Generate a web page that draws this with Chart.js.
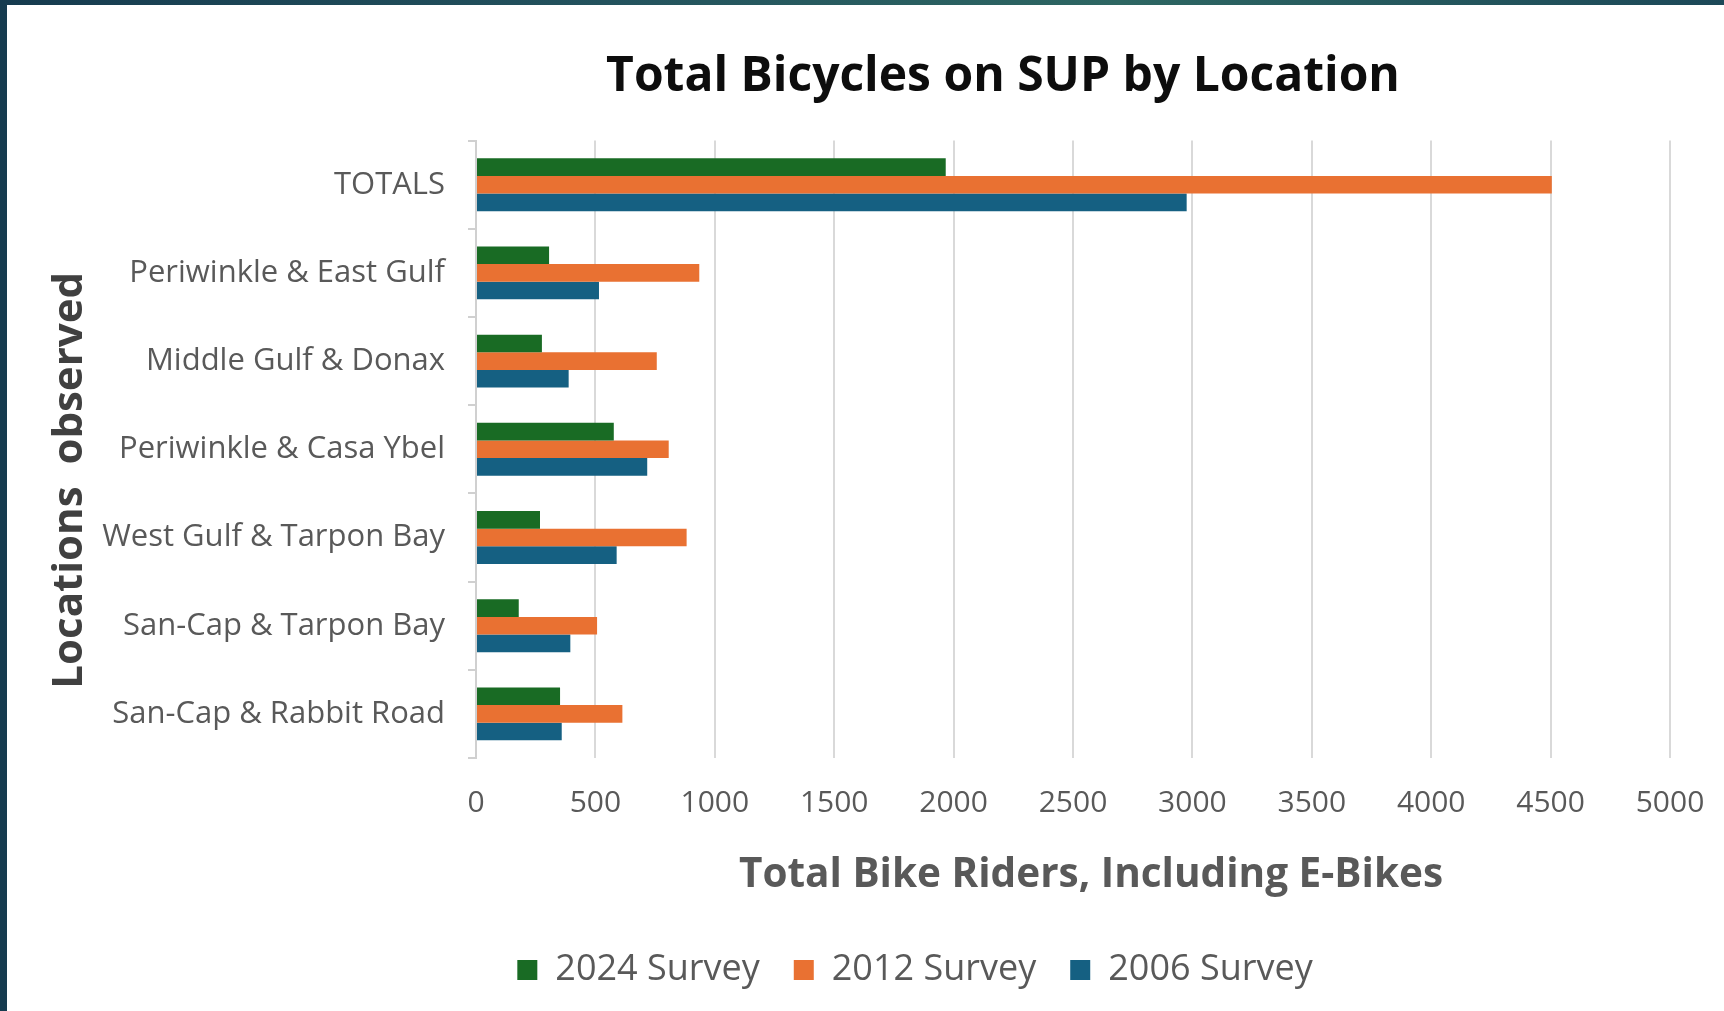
<!DOCTYPE html>
<html>
<head>
<meta charset="utf-8">
<title>Total Bicycles on SUP by Location</title>
<script src="https://cdn.jsdelivr.net/npm/chart.js@4"></script>
<style>
  html, body { margin: 0; padding: 0; }
  body {
    width: 1724px; height: 1011px; overflow: hidden;
    background: linear-gradient(90deg, #163b4f 0%, #23525d 35%, #2d6662 65%, #1c4858 100%);
    position: relative;
  }
  #card { position: absolute; left: 7px; top: 5px; width: 1717px; height: 1006px; background: #fff; }
</style>
</head>
<body>
<div id="card"><canvas id="chart" width="1717" height="1006"></canvas></div>
<script>
// Chart data
const locations = ['TOTALS', 'Periwinkle & East Gulf', 'Middle Gulf & Donax', 'Periwinkle & Casa Ybel',
    'West Gulf & Tarpon Bay', 'San-Cap & Tarpon Bay', 'San-Cap & Rabbit Road'];
const survey2024 = [1967, 306, 276, 577, 268, 179, 352];
const survey2012 = [4505, 935, 757, 807, 882, 507, 613];
const survey2006 = [2976, 515, 388, 717, 589, 395, 359];
const seriesNames = ['2024 Survey', '2012 Survey', '2006 Survey'];
const xTicks = [0, 500, 1000, 1500, 2000, 2500, 3000, 3500, 4000, 4500, 5000];

const chartTitle = 'Total Bicycles on SUP by Location';
const xTitle = 'Total Bike Riders, Including E-Bikes';
const yTitle = 'Locations  observed';

const FONT = '"Open Sans", "Noto Sans", sans-serif';
const GREY = '#595959';

// axis titles sit a bit off-centre in the original, so draw them ourselves
const axisTitles = {
    id: 'axisTitles',
    afterLayout(chart) {
        // nudge title and legend to where the original has them
        const t = chart.titleBlock, l = chart.legend;
        const dt = 996 - (t.left + t.right) / 2;
        t.left += dt; t.right += dt;
        const dl = 908 - (l.left + l.right) / 2;
        l.left += dl; l.right += dl;
    },
    afterDraw(chart) {
        const ctx = chart.ctx;
        const a = chart.chartArea;
        ctx.save();
        ctx.fillStyle = GREY;
        ctx.font = 'bold 40.5px ' + FONT;
        ctx.textAlign = 'center';
        ctx.textBaseline = 'middle';
        ctx.fillText(xTitle, (a.left + a.right) / 2 + 18, a.bottom + 117);
        ctx.translate(63, (a.top + a.bottom) / 2 + 31);
        ctx.rotate(-Math.PI / 2);
        ctx.fillStyle = '#404040';
        ctx.font = 'bold 42px ' + FONT;
        ctx.fillText(yTitle, 0, 0);
        ctx.restore();
    }
};

new Chart(document.getElementById('chart'), {
    type: 'bar',
    data: {
        labels: locations,
        datasets: [
            { label: seriesNames[0], data: survey2024, backgroundColor: '#196b24' },
            { label: seriesNames[1], data: survey2012, backgroundColor: '#e97132' },
            { label: seriesNames[2], data: survey2006, backgroundColor: '#156082' }
        ]
    },
    options: {
        indexAxis: 'y',
        responsive: false,
        animation: false,
        categoryPercentage: 0.6,
        barPercentage: 1.0,
        layout: { padding: { left: 0, right: 54, top: 0, bottom: 13 } },
        scales: {
            x: {
                min: 0,
                max: 5000,
                afterBuildTicks: s => { s.ticks = xTicks.map(v => ({ value: v })); },
                ticks: { color: GREY, font: { family: FONT, size: 30 }, padding: 27, callback: v => String(v) },
                grid: { color: '#d9d9d9', lineWidth: 2, drawTicks: false },
                border: { display: false },
                afterFit: s => { s.height = 160; s.paddingLeft = 0; s.paddingRight = 0; }
            },
            y: {
                ticks: { color: GREY, font: { family: FONT, size: 31 }, padding: 23 },
                grid: { drawOnChartArea: false, drawTicks: true, tickLength: 8, color: '#d0d0d0', lineWidth: 2 },
                border: { display: true, color: '#d0d0d0', width: 2 },
                afterFit: s => { s.width = 469; }
            }
        },
        plugins: {
            title: {
                display: true,
                text: chartTitle,
                color: '#0d0d0d',
                font: { family: FONT, size: 48, weight: 'bold' },
                padding: { top: 44, bottom: 34 }
            },
            legend: {
                position: 'bottom',
                labels: {
                    color: GREY,
                    font: { family: FONT, size: 36 },
                    boxWidth: 20,
                    boxHeight: 20,
                    padding: 34
                }
            },
            tooltip: { enabled: false }
        }
    },
    plugins: [axisTitles]
});
</script>
</body>
</html>
